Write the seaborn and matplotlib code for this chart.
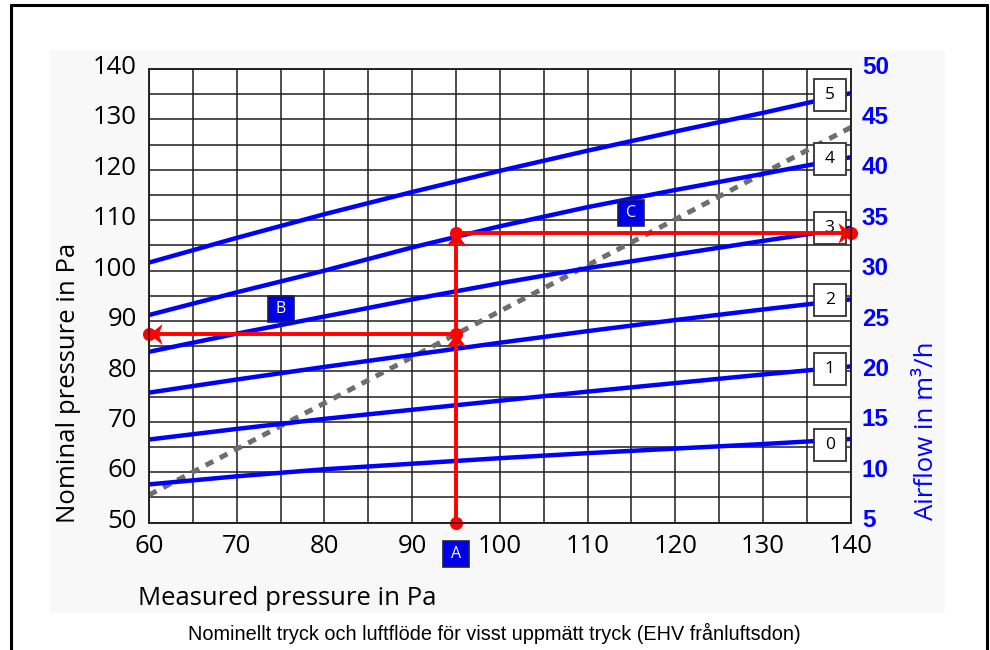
import matplotlib
matplotlib.use("Agg")
import numpy as np
import pandas as pd
import matplotlib.pyplot as plt
import seaborn as sns
from matplotlib.path import Path
from matplotlib.lines import Line2D
from matplotlib.patches import Rectangle
from matplotlib.ticker import MultipleLocator
import matplotlib.transforms as mtransforms

# ---------------- data ----------------
measured = [60, 70, 80, 90, 100, 110, 120, 130, 140]
setting_0 = [57.6, 59.2, 60.6, 61.7, 62.8, 63.8, 64.7, 65.6, 66.6]
setting_1 = [66.5, 68.6, 70.6, 72.4, 74.2, 76.0, 77.7, 79.4, 81.0]
setting_2 = [75.8, 78.4, 80.9, 83.3, 85.7, 88.0, 90.2, 92.3, 94.3]
setting_3 = [83.9, 87.5, 90.9, 94.3, 97.5, 100.5, 103.2, 105.9, 108.5]
setting_4 = [91.2, 95.7, 100.0, 104.6, 108.8, 112.6, 116.0, 119.2, 122.5]
setting_5 = [101.6, 106.5, 111.2, 115.6, 119.8, 123.8, 127.6, 131.3, 135.2]
setting_names = ["0", "1", "2", "3", "4", "5"]
setting_label_x = 137.6
setting_label_y = [65.5, 80.4, 94.2, 108.5, 122.1, 134.8]

reference_measured = [60, 140]
reference_nominal = [55.5, 128.4]

example_measured = 95
example_nominal = 87.4
example_nominal_flow = 107.4

marker_names = ["A", "B", "C"]
marker_x = [95.0, 75.0, 115.0]
marker_y = [43.8, 92.4, 111.4]

x_ticks = [60, 70, 80, 90, 100, 110, 120, 130, 140]
y_ticks_left = [50, 60, 70, 80, 90, 100, 110, 120, 130, 140]
y_ticks_right = [5, 10, 15, 20, 25, 30, 35, 40, 45, 50]

x_label = "Measured pressure in Pa"
y_label = "Nominal pressure in Pa"
y2_label = "Airflow in m³/h"
caption = "Nominellt tryck och luftflöde för visst uppmätt tryck (EHV frånluftsdon)"

# ---------------- style ----------------
sns.set_theme(style="white")
plt.rcParams["font.family"] = ["Open Sans", "DejaVu Sans"]

BLUE = "#0000ff"
RED = "#ff0000"
GRID = "#1e1e1e"

fig = plt.figure(figsize=(9.9, 6.5), dpi=100)
fig.patch.set_facecolor("white")
fig.patches.append(Rectangle((50 / 990, 1 - 613 / 650), 895 / 990, 563 / 650,
                             transform=fig.transFigure, facecolor="#f8f8f8",
                             edgecolor="none", zorder=-10))

ax = fig.add_axes([149 / 990, 1 - 522.7 / 650, 701.7 / 990, 453.7 / 650])
ax.set_facecolor("white")

df = pd.DataFrame({
    "measured": measured * 6,
    "nominal": setting_0 + setting_1 + setting_2 + setting_3 + setting_4 + setting_5,
    "setting": [n for n in setting_names for _ in measured],
})

# reference (dashed) line
ax.plot(reference_measured, reference_nominal, color="#6e6e6e", lw=3.6,
        dashes=(1.7, 1.5), zorder=2.5)

sns.lineplot(data=df, x="measured", y="nominal", hue="setting",
             palette=[BLUE] * 6, linewidth=3.2, legend=False, ax=ax,
             zorder=3, errorbar=None)

ax.set_xlim(60, 140)
ax.set_ylim(50, 140)
ax.xaxis.set_major_locator(MultipleLocator(10))
ax.xaxis.set_minor_locator(MultipleLocator(5))
ax.yaxis.set_major_locator(MultipleLocator(10))
ax.yaxis.set_minor_locator(MultipleLocator(5))
ax.set_xticks(x_ticks)
ax.set_yticks(y_ticks_left)
ax.grid(which="both", color=GRID, linewidth=1.1)
ax.set_axisbelow(True)
for s in ax.spines.values():
    s.set_color(GRID)
    s.set_linewidth(1.1)
ax.tick_params(axis="x", which="both", direction="out", length=4, width=1.1,
               color=GRID, labelsize=18.5, pad=4, labelcolor="black")
ax.tick_params(axis="y", which="both", length=0, pad=8.5, labelsize=18.5,
               labelcolor="black")

ax.set_xlabel(x_label, fontsize=18.5, color="black", ha="left", va="baseline")
ax.xaxis.set_label_coords(-0.0157, -0.1814)
ax.set_ylabel(y_label, fontsize=18.5, color="black", loc="bottom")
ax.yaxis.set_label_coords(-0.097, 0.0)

# right axis
ax2 = ax.twinx()
ax2.set_ylim(5, 50)
ax2.set_yticks(y_ticks_right, labels=[str(v) for v in y_ticks_right],
               fontfamily="Liberation Sans", fontweight="bold")
ax2.tick_params(axis="y", length=0, pad=8, labelsize=17.5, labelcolor=BLUE)
ax2.grid(False)
for s in ax2.spines.values():
    s.set_color(GRID)
    s.set_linewidth(1.1)
ax2.set_ylabel(y2_label, fontsize=18.5, color=BLUE, loc="bottom")
ax2.yaxis.set_label_coords(1.09, 0.006)

# y tick labels sit slightly above their grid lines in the reference
shift = mtransforms.ScaledTranslation(0, 3.2 / 72, fig.dpi_scale_trans)
for lab in ax.get_yticklabels() + ax2.get_yticklabels():
    lab.set_transform(lab.get_transform() + shift)

# setting number boxes
ax.plot([setting_label_x] * len(setting_names), setting_label_y, linestyle="none",
        marker="s", ms=23.5, mfc="white", mec="#333333", mew=1.3, zorder=4,
        clip_on=False)
for name, yy in zip(setting_names, setting_label_y):
    ax.text(setting_label_x, yy, name, ha="center", va="center", fontsize=12.5,
            color="black", zorder=4.5, clip_on=False)

# red example reading path
ax.plot([example_measured, example_measured], [50, example_nominal_flow],
        color=RED, lw=2.8, zorder=5, clip_on=False, solid_capstyle="butt")
ax.plot([60, example_measured], [example_nominal, example_nominal],
        color=RED, lw=2.8, zorder=5, clip_on=False, solid_capstyle="butt")
ax.plot([example_measured, 140], [example_nominal_flow, example_nominal_flow],
        color=RED, lw=2.8, zorder=5, clip_on=False, solid_capstyle="butt")
ax.plot([example_measured, example_measured, 60, example_measured, 140],
        [50, example_nominal, example_nominal, example_nominal_flow, example_nominal_flow],
        linestyle="none", marker="o", ms=8.4, color=RED, zorder=6, clip_on=False)

def arrow_marker(direction):
    base = np.array([(0, 0), (0.8, -1), (0, -0.72), (-0.8, -1), (0, 0)])
    rot = {"up": 0, "left": 90, "down": 180, "right": -90}[direction]
    t = np.deg2rad(rot)
    R = np.array([[np.cos(t), -np.sin(t)], [np.sin(t), np.cos(t)]])
    v = base @ R.T
    codes = [Path.MOVETO, Path.LINETO, Path.LINETO, Path.LINETO, Path.CLOSEPOLY]
    return Path(v, codes)

for (xx, yy, d) in [(example_measured, example_nominal, "up"),
                    (example_measured, example_nominal_flow, "up"),
                    (60, example_nominal, "left"),
                    (140, example_nominal_flow, "right")]:
    ax.plot([xx], [yy], linestyle="none", marker=arrow_marker(d), ms=18.7,
            color=RED, mec=RED, mew=0, zorder=6, clip_on=False)

# A / B / C markers
ax.plot(marker_x, marker_y, linestyle="none", marker="s", ms=18.7,
        mfc="#0000e8", mec="#20204a", mew=1.2, zorder=7, clip_on=False)
for name, xx, yy in zip(marker_names, marker_x, marker_y):
    ax.text(xx, yy, name, ha="center", va="center", fontsize=11.5,
            color="white", zorder=8, clip_on=False)

# outer frame (left, top, right)
for xs, ys in [([11 / 990, 11 / 990], [0, 1 - 5 / 650]),
               ([11 / 990, 987 / 990], [1 - 5 / 650, 1 - 5 / 650]),
               ([987 / 990, 987 / 990], [1 - 5 / 650, 0])]:
    fig.add_artist(Line2D(xs, ys, color="black", lw=2.2,
                          transform=fig.transFigure))

fig.text(494 / 990, 1 - 640.5 / 650, caption, ha="center", va="baseline",
         fontsize=14.3, family=["Liberation Sans", "DejaVu Sans"], color="black")

fig.savefig("out.png", dpi=100)
